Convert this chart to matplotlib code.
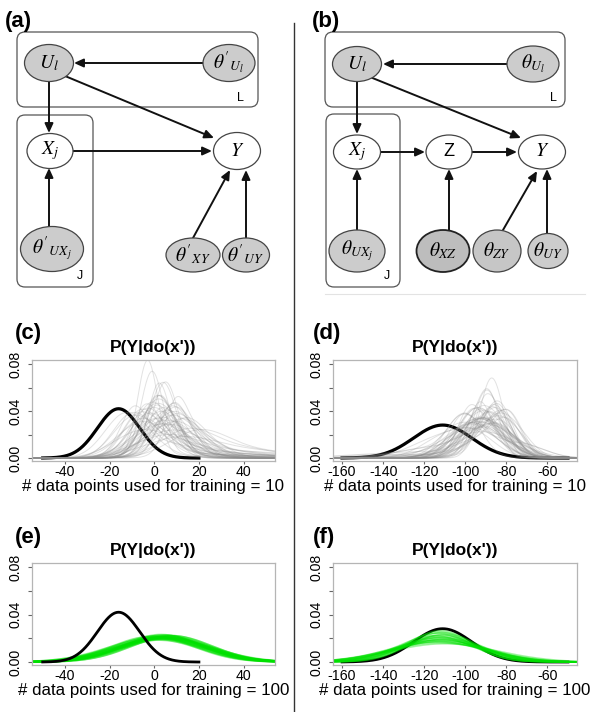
import numpy as np
import matplotlib
matplotlib.use("Agg")
import matplotlib.pyplot as plt
from matplotlib.patches import Ellipse, FancyBboxPatch

plt.rcParams['font.family'] = ['Liberation Sans', 'DejaVu Sans']
plt.rcParams['mathtext.fontset'] = 'stix'
plt.rcParams['axes.unicode_minus'] = False

W, H = 601, 712

# ---- density curves ----
# black "true" curves: mean, sd, x-range
black_cd_mu = [-16.0, -111.0]
black_cd_sd = [9.5, 14.2]
black_cd_from = [-50.0, -160.0]
black_cd_to = [20.0, -50.0]

# panel (c): grey posterior curves, each a two-bump mixture
gray_c_m1 = [-3, -1, 4, 5, 2, 0, 8, -6, 10, -10, 3, 6, 12, -4, 15, 1, -8, 7, -2, 9,
             4, -12, 0, 3, 11, -5, 6, 2, 13, -7, 8, 0, 5, -2, 10, -9, 7, 1, 17, -1,
             -14, 4, 20, -3, 9, 6, -6, 14, 2, 11]
gray_c_s1 = [4.5, 5, 6, 5.5, 7, 7.5, 8, 8, 9, 9, 9, 7, 10, 6, 12, 10, 7, 6, 9, 11,
             8, 8, 6, 12, 7, 10, 9, 4.5, 8, 12, 14, 8.5, 10, 6.5, 5, 6, 12, 7, 10, 10,
             9, 11, 13, 8, 6.5, 15, 11, 9, 5.5, 16]
gray_c_m2 = [8, 10, -5, 15, 12, -12, 25, 5, 30, 0, 20, -2, 35, 10, 40, 25, 4, 18, 14, 30,
             50, -2, 6, 20, 0, 20, 30, 10, 3, 15, 40, 30, -10, 8, 20, 5, 45, 20, 5, 12,
             -4, 30, 45, 15, 25, 45, 10, 35, 12, 40]
gray_c_s2 = [12, 14, 10, 15, 18, 8, 15, 12, 18, 12, 20, 6, 15, 10, 15, 25, 9, 8, 20, 22,
             30, 10, 8, 30, 10, 25, 30, 12, 9, 15, 20, 30, 10, 6, 10, 14, 20, 12, 8, 10,
             10, 25, 20, 20, 20, 25, 15, 20, 10, 25]
gray_c_w = [0.92, 0.9, 0.95, 0.85, 0.9, 0.85, 0.85, 0.7, 0.8, 0.6, 0.85, 0.6, 0.8, 0.6,
            0.7, 0.8, 0.5, 0.55, 0.8, 0.8, 0.85, 0.5, 0.5, 0.8, 0.6, 0.8, 0.9, 0.6, 0.5,
            0.6, 0.8, 0.9, 0.8, 0.6, 0.5, 0.55, 0.85, 0.75, 0.5, 0.5,
            0.7, 0.75, 0.7, 0.8, 0.7, 0.7, 0.75, 0.7, 0.6, 0.6]

# panel (d): grey posterior curves
gray_d_m1 = [-87, -90, -84, -93, -88, -96, -82, -99, -90, -86, -92, -95, -80, -102, -89,
             -97, -85, -91, -100, -83, -94, -105, -88, -92, -81, -98, -87, -93, -110, -84,
             -96, -90, -79, -101, -86, -120, -89, -95, -85, -92,
             -104, -98, -108, -94, -100, -86, -112, -97, -90, -103]
gray_d_s1 = [5.5, 6, 7, 7, 9, 8, 8, 9, 10, 6.5, 11, 7, 9, 10, 8, 12, 10, 5, 8, 6,
             9, 12, 12, 8.5, 10, 6, 14, 5.5, 20, 11, 10, 7, 7, 7, 8, 30, 9, 13, 7.5, 15,
             9, 11, 12, 8, 10, 9, 14, 7, 16, 8]
gray_d_m2 = [-95, -80, -98, -82, -105, -85, -95, -85, -120, -100, -80, -88, -92, -88, -70,
             -130, -100, -83, -120, -93, -78, -90, -140, -110, -95, -86, -100, -75, -90, -96,
             -86, -100, -92, -84, -120, -90, -78, -82, -97, -80,
             -88, -82, -90, -110, -85, -75, -95, -84, -110, -90]
gray_d_s2 = [10, 8, 10, 6, 15, 7, 12, 8, 20, 12, 6, 5, 9, 8, 10, 20, 8, 7, 15, 9,
             9, 8, 20, 20, 8, 9, 10, 12, 10, 7, 12, 8, 10, 10, 25, 10, 6, 7, 15, 7,
             8, 8, 10, 15, 9, 8, 10, 8, 20, 9]
gray_d_w = [0.9, 0.8, 0.8, 0.7, 0.85, 0.6, 0.7, 0.6, 0.85, 0.6, 0.8, 0.5, 0.6, 0.5, 0.75,
            0.85, 0.6, 0.45, 0.7, 0.5, 0.7, 0.5, 0.85, 0.85, 0.5, 0.55, 0.5, 0.6, 0.5, 0.65,
            0.6, 0.5, 0.6, 0.6, 0.9, 0.4, 0.6, 0.75, 0.7, 0.6,
            0.6, 0.6, 0.6, 0.8, 0.6, 0.7, 0.6, 0.65, 0.8, 0.6]

# panel (e): green curves (100 training points)
green_e_mu = [1, 3, 5, 7, 3, -1, 6, 4, 2, 8, 5, 0, 3, 2, 6, 4, 7, 5, 1, 4, 3, 0, 5, 6, 3, 8, 2, 4, -1, 5]
green_e_sd = [18.5, 19, 18, 19.5, 20.5, 18.5, 19, 17.5, 21, 18, 19, 19.5, 17.2, 20, 18.5,
              19, 17.8, 20.2, 21.5, 18.7, 19.8, 18.3, 19.4, 20.8, 18.9, 18.2, 19.6, 17.6, 20.3, 19.1]

# panel (f): green curves (100 training points)
green_f_mu = [-112, -113, -111, -114, -110, -112, -115, -113, -111, -112, -114, -110, -113,
              -112, -115, -111, -113, -114, -112, -110, -113, -111, -114, -112, -113]
green_f_sd = [15, 15.5, 16, 16.5, 17, 17.5, 18, 18.5, 19, 19.5, 20, 20.5, 21, 21.5, 22,
              22.5, 23, 24, 25, 26, 16.2, 17.8, 19.3, 21.2, 23.5]

xlim_left = (-54.8, 54.1)
xlim_right = (-164.4, -45.6)
xticks_left = [-40, -20, 0, 20, 40]
xticks_right = [-160, -140, -120, -100, -80, -60]
yticks = [0.0, 0.02, 0.04, 0.06, 0.08]
ytick_labels = ['0.00', '', '0.04', '', '0.08']


def npdf(x, m, s):
    return np.exp(-0.5 * ((x - m) / s) ** 2) / (s * np.sqrt(2 * np.pi))


fig = plt.figure(figsize=(W / 100, H / 100), dpi=100)

# ---- overlay for the two graphs, labels and divider ----
ov = fig.add_axes([0, 0, 1, 1])
ov.set_xlim(0, W)
ov.set_ylim(H, 0)
ov.axis('off')

ov.plot([294, 294], [23, H], color='#333333', lw=1.0)
ov.plot([325, 585], [294, 294], color='#e3e3e3', lw=0.8)

for lab, x, y in [('(a)', 5, 22), ('(b)', 312, 22), ('(c)', 15, 333),
                  ('(d)', 313, 333), ('(e)', 15, 537), ('(f)', 313, 537)]:
    ov.text(x, y, lab, fontsize=16, fontweight='bold', ha='left', va='center')


def plate(x0, y0, x1, y1, lab, lx, ly):
    ov.add_patch(FancyBboxPatch((x0, y0), x1 - x0, y1 - y0,
                                boxstyle='round,pad=0,rounding_size=8',
                                fc='none', ec='#555555', lw=0.9))
    ov.text(lx, ly, lab, fontsize=9, ha='center', va='center')


def node(cx, cy, w, h, txt, fc='#cccccc', lw=0.9, ec='#444444', fs=14):
    ov.add_patch(Ellipse((cx, cy), w, h, fc=fc, ec=ec, lw=lw, zorder=3))
    ov.text(cx, cy, txt, fontsize=fs, ha='center', va='center', zorder=4)


def arrow(x0, y0, x1, y1):
    ov.annotate('', xy=(x1, y1), xytext=(x0, y0),
                arrowprops=dict(arrowstyle='-|>,head_length=0.55,head_width=0.25',
                                lw=1.4, color='#111111', shrinkA=0, shrinkB=0))


# graph (a)
plate(17, 32, 258, 107, 'L', 240, 98)
plate(17, 115, 93, 287, 'J', 80, 276)
arrow(203, 63, 74, 63)
arrow(49, 82, 49, 133)
arrow(65, 76, 214, 138)
arrow(73, 151, 212, 151)
arrow(49, 227, 49, 168)
arrow(193, 238, 230, 170)
arrow(246, 238, 246, 170)
node(49, 63, 49, 37, r'$U_l$')
node(229, 63, 52, 37, r"$\theta'_{U_l}$")
node(50, 151, 46, 35, r'$X_j$', fc='white')
node(237, 151, 47, 37, r'$Y$', fc='white')
node(52, 249, 63, 45, r"$\theta'_{UX_j}$")
node(193, 255, 54, 34, r"$\theta'_{XY}$")
node(246, 255, 47, 34, r"$\theta'_{UY}$")

# graph (b)
plate(325, 32, 565, 107, 'L', 553, 98)
plate(326, 114, 400, 287, 'J', 387, 276)
arrow(507, 64, 383, 64)
arrow(357, 82, 357, 134)
arrow(370, 77, 521, 138)
arrow(380, 152, 425, 152)
arrow(472, 152, 517, 152)
arrow(357, 230, 357, 169)
arrow(449, 230, 449, 169)
arrow(503, 230, 537, 171)
arrow(547, 233, 547, 169)
node(357, 64, 49, 35, r'$U_l$')
node(533, 64, 52, 36, r'$\theta_{U_l}$')
node(357, 152, 47, 34, r'$X_j$', fc='white')
node(449, 152, 46, 34, 'Z', fc='white', fs=13)
node(542, 152, 47, 34, r'$Y$', fc='white')
node(357, 251, 56, 42, r'$\theta_{UX_j}$')
node(443, 251, 53, 42, r'$\theta_{XZ}$', fc='#bdbdbd', lw=1.3, ec='#222222')
node(497, 251, 48, 42, r'$\theta_{ZY}$', fc='#c6c6c6')
node(548, 251, 40, 35, r'$\theta_{UY}$')


# ---- density panels ----
def make_ax(left, top, right, bottom, xlim, xticks):
    ax = fig.add_axes([left / W, 1 - bottom / H, (right - left) / W, (bottom - top) / H])
    ax.set_xlim(*xlim)
    ax.set_ylim(-0.0025, 0.0835)
    ax.set_xticks(xticks)
    ax.set_xticklabels([str(t) for t in xticks])
    ax.set_yticks(yticks)
    ax.set_yticklabels(ytick_labels, rotation=90, va='center')
    for sp in ax.spines.values():
        sp.set_color('#b5b5b5')
        sp.set_linewidth(0.9)
    ax.tick_params(axis='x', length=2.5, pad=0.5, labelsize=10.2, color='#666666')
    ax.tick_params(axis='y', length=3, pad=4, labelsize=10.2, color='#666666')
    ax.set_facecolor('white')
    return ax


def titles(cx, ty, base, n):
    fig.text(cx / W, 1 - ty / H, "P(Y|do(x'))", fontsize=12.5, fontweight='bold',
             ha='center', va='center')
    fig.text(cx / W, 1 - base / H, '# data points used for training = %d' % n,
             fontsize=12.2, ha='center', va='baseline')


xs_l = np.linspace(-60, 60, 600)
xs_r = np.linspace(-170, -40, 600)

bx_c = np.linspace(black_cd_from[0], black_cd_to[0], 300)
by_c = npdf(bx_c, black_cd_mu[0], black_cd_sd[0])
bx_d = np.linspace(black_cd_from[1], black_cd_to[1], 300)
by_d = npdf(bx_d, black_cd_mu[1], black_cd_sd[1])

# (c)
ax = make_ax(32, 360, 275, 461, xlim_left, xticks_left)
ax.plot(bx_c, by_c, color='black', lw=2.3, zorder=1)
for m1, s1, m2, s2, w in zip(gray_c_m1, gray_c_s1, gray_c_m2, gray_c_s2, gray_c_w):
    ax.plot(xs_l, w * npdf(xs_l, m1, s1) + (1 - w) * npdf(xs_l, m2, s2),
            color='#8c8c8c', alpha=0.25, lw=0.7, zorder=2)
titles(153.5, 347, 491, 10)

# (d)
ax = make_ax(333, 360, 577, 461, xlim_right, xticks_right)
ax.plot(bx_d, by_d, color='black', lw=2.3, zorder=1)
for m1, s1, m2, s2, w in zip(gray_d_m1, gray_d_s1, gray_d_m2, gray_d_s2, gray_d_w):
    ax.plot(xs_r, w * npdf(xs_r, m1, s1) + (1 - w) * npdf(xs_r, m2, s2),
            color='#8c8c8c', alpha=0.25, lw=0.7, zorder=2)
titles(455, 347, 491, 10)

# (e)
ax = make_ax(32, 563, 275, 665, xlim_left, xticks_left)
for m, s in zip(green_e_mu, green_e_sd):
    ax.plot(xs_l, npdf(xs_l, m, s), color='#00e000', alpha=0.35, lw=1.3, zorder=1)
ax.plot(bx_c, by_c, color='black', lw=2.0, zorder=2)
titles(153.5, 551, 695, 100)

# (f)
ax = make_ax(333, 563, 577, 665, xlim_right, xticks_right)
ax.plot(bx_d, by_d, color='black', lw=2.0, zorder=1)
for m, s in zip(green_f_mu, green_f_sd):
    ax.plot(xs_r, npdf(xs_r, m, s), color='#00e000', alpha=0.35, lw=1.0, zorder=2)
titles(455, 551, 695, 100)

fig.savefig('out.png', dpi=100)
